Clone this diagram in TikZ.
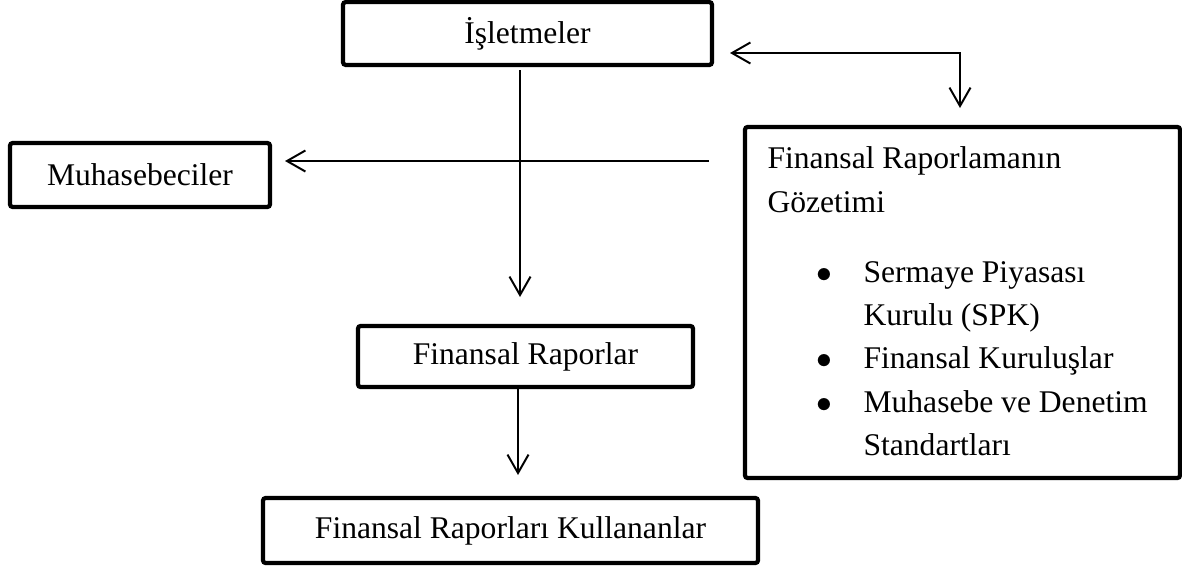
\documentclass[tikz,border=0pt]{standalone}
\usepackage{fontspec}
\setmainfont{Liberation Serif}
\usetikzlibrary{arrows.meta}
\tikzset{
  box/.style={
    draw=black, line width=1.6pt, rounded corners=1pt, inner sep=0pt,
    font=\fontsize{12}{16.5}\selectfont,
  },
  link/.style={draw=black, line width=0.75pt, -{Straight Barb[length=7pt,width=8pt]}},
  twolink/.style={draw=black, line width=0.75pt, {Straight Barb[length=7pt,width=8pt]}-{Straight Barb[length=7pt,width=8pt]}},
}
\newcommand\gozbullet{\hspace*{18.5pt}\makebox[18pt][l]{$\bullet$}}

\begin{document}
\begin{tikzpicture}[x=0.38pt, y=-0.38pt]
  \useasboundingbox (0,0) rectangle (1182,566);

  % boxes
  \node[box, minimum width=140.2pt, minimum height=23.9pt] (isletme) at (527.5,33.5) {İşletmeler};
  \node[box, minimum width=98.8pt, minimum height=24.3pt] (muhasebe) at (140,175) {Muhasebeciler};
  \node[box, minimum width=127.3pt, minimum height=23.2pt] (rapor) at (525.5,356.5) {Finansal Raporlar};
  \node[box, minimum width=188.1pt, minimum height=24.7pt] (kullanan) at (510.5,530.5) {Finansal Raporları Kullananlar};
  \node[box, minimum width=165.3pt, minimum height=133.4pt] (gozetim) at (962.5,302.5) {};
  \node[anchor=north west, inner sep=0pt, align=left, font=\fontsize{12}{16.5}\selectfont] (gozetimtext) at (767,146.5) {%
    Finansal Raporlamanın\\
    Gözetimi\\[10pt]
    \gozbullet Sermaye Piyasası\\
    \hspace*{36.5pt}Kurulu (SPK)\\
    \gozbullet Finansal Kuruluşlar\\
    \gozbullet Muhasebe ve Denetim\\
    \hspace*{36.5pt}Standartları};

  % free ends of the connectors
  \coordinate (isletmeout) at (520,70);
  \coordinate (raporin) at (520,297);
  \coordinate (gozetimout) at (709,161);
  \coordinate (muhasebein) at (285,161);
  \coordinate (isletmein) at (730,53);
  \coordinate (gozetimin) at (960,108);
  \coordinate (kullananin) at (518,475);

  % connectors
  \draw[link] (isletmeout) -- (raporin);
  \draw[link] (gozetimout) -- (muhasebein);
  \draw[twolink] (isletmein) -| (gozetimin);
  \draw[link] (rapor.south -| kullananin) -- (kullananin);

\end{tikzpicture}
\end{document}
